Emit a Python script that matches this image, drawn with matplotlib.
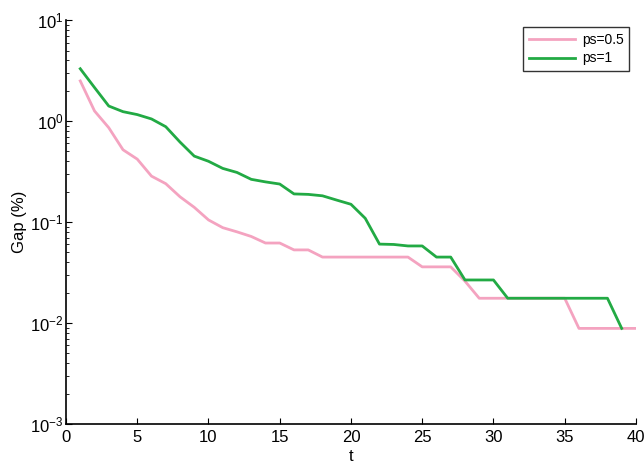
import matplotlib
matplotlib.use('Agg')
import matplotlib.pyplot as plt
from matplotlib.ticker import LogLocator, NullFormatter

# Gap (%) per iteration t
t_half = list(range(1, 41))
gap_half = [2.5, 1.26, 0.86, 0.52, 0.42, 0.285, 0.24, 0.178, 0.14, 0.105,
            0.088, 0.08, 0.072, 0.062, 0.062, 0.053, 0.053, 0.045, 0.045, 0.045,
            0.045, 0.045, 0.045, 0.045, 0.036, 0.036, 0.036, 0.026, 0.0176, 0.0176,
            0.0176, 0.0176, 0.0176, 0.0176, 0.0176, 0.00885, 0.00885, 0.00885, 0.00885, 0.00885]

t_one = list(range(1, 40))
gap_one = [3.3, 2.15, 1.41, 1.24, 1.16, 1.05, 0.88, 0.62, 0.45, 0.40,
           0.34, 0.31, 0.265, 0.25, 0.238, 0.19, 0.188, 0.182, 0.165, 0.15,
           0.109, 0.0605, 0.060, 0.058, 0.058, 0.045, 0.045, 0.0267, 0.0267, 0.0267,
           0.0176, 0.0176, 0.0176, 0.0176, 0.0176, 0.0176, 0.0176, 0.0176, 0.00885]

plt.rcParams['font.family'] = ['Liberation Sans', 'DejaVu Sans']

fig = plt.figure(figsize=(6.44, 4.68), dpi=100)
ax = fig.add_axes([0.1025, 0.094, 0.885, 0.863])

ax.plot(t_half, gap_half, color='#F4A3C0', linewidth=2, label='ps=0.5')
ax.plot(t_one, gap_one, color='#22AA44', linewidth=2, label='ps=1')

ax.set_yscale('log')
ax.set_xlim(0, 40)
ax.set_ylim(1e-3, 1e1)
ax.set_xticks(range(0, 41, 5))
ax.yaxis.set_major_locator(LogLocator(base=10, numticks=10))
ax.yaxis.set_minor_locator(LogLocator(base=10, subs=range(2, 10), numticks=20))
ax.yaxis.set_minor_formatter(NullFormatter())

for side in ['top', 'right']:
    ax.spines[side].set_visible(False)
for side in ['left', 'bottom']:
    ax.spines[side].set_linewidth(1.2)

ax.tick_params(which='both', direction='in', labelsize=12)
ax.tick_params(which='major', length=4)
ax.tick_params(which='minor', length=2.5)
ax.tick_params(axis='x', pad=4)
ax.tick_params(axis='y', pad=2)

ax.set_xlabel('t', fontsize=12, labelpad=3)
ax.set_ylabel('Gap (%)', fontsize=12, labelpad=2)

leg = ax.legend(loc='upper right', bbox_to_anchor=(1.0, 1.0), fontsize=10,
                frameon=True, fancybox=False, edgecolor='black',
                handlelength=3.3, handletextpad=0.5, borderpad=0.4,
                labelspacing=0.35)
leg.get_frame().set_linewidth(1.0)

fig.savefig('out.png', dpi=100, facecolor='white')
